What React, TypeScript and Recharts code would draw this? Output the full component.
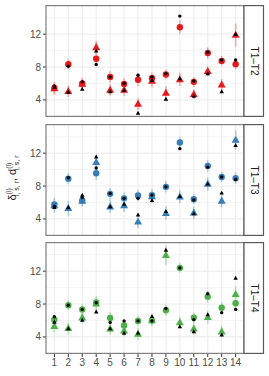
import React from "react";
import {
  ScatterChart,
  Scatter,
  XAxis,
  YAxis,
  CartesianGrid,
  ErrorBar,
} from "recharts";

const subjects = [1, 2, 3, 4, 5, 6, 7, 8, 9, 10, 11, 12, 13, 14];
const yTicks = [4, 8, 12];
const yMinor = [2, 6, 10, 14];

// T1–T2
const t2Dot = [5.7, 8.1, 6.2, 8.3, 6.8, 6.0, 7.0, 6.8, 7.2, 14.2, 6.3, 9.8, 8.85, 8.85];
const t2Tri = [5.55, 4.95, 5.3, 9.95, 5.0, 5.2, 2.4, 6.4, 4.1, 6.6, 4.45, 7.2, 5.0, 12.0];
const t2EstDot = [5.45, 8.35, 6.0, 9.0, 6.8, 5.95, 6.45, 6.65, 7.1, 12.85, 6.2, 9.7, 8.75, 8.35];
const t2EstDotErr = [0.7, 0.6, 0.7, 0.8, 0.7, 0.7, 0.8, 0.7, 0.6, 0.8, 0.6, 0.7, 0.6, 0.6];
const t2EstTri = [5.4, 5.05, 5.95, 10.4, 5.2, 5.2, 3.5, 6.3, 4.85, 6.5, 4.7, 7.5, 5.85, 11.9];
const t2EstTriErr = [0.8, 0.7, 0.7, 0.8, 0.7, 0.7, 0.7, 0.8, 0.8, 0.8, 0.6, 0.6, 0.7, 1.4];

// T1–T3
const t3Dot = [5.55, 9.0, 6.6, 10.2, 7.1, 6.5, 6.5, 6.9, 7.9, 12.55, 6.3, 10.3, 9.1, 8.8];
const t3Tri = [5.4, 5.4, 6.9, 11.55, 5.5, 5.8, 4.5, 6.25, 4.9, 6.75, 4.65, 8.25, 7.15, 12.95];
const t3EstDot = [5.75, 8.9, 6.25, 9.55, 7.05, 6.5, 6.85, 6.9, 7.9, 13.3, 6.4, 10.45, 9.1, 8.95];
const t3EstDotErr = [0.7, 0.7, 0.7, 0.8, 0.7, 0.7, 0.7, 0.7, 0.7, 0.7, 0.6, 0.7, 0.6, 0.7];
const t3EstTri = [5.65, 5.3, 6.2, 10.9, 5.5, 5.65, 3.65, 6.75, 4.7, 6.7, 4.75, 8.25, 6.2, 13.6];
const t3EstTriErr = [0.9, 0.9, 0.7, 0.9, 0.8, 0.8, 0.8, 0.8, 0.8, 0.8, 0.8, 0.8, 0.8, 1.2];

// T1–T4
const t4Dot = [6.45, 7.85, 7.35, 8.15, 5.75, 5.95, 5.95, 5.95, 7.45, 12.4, 6.1, 9.25, 6.95, 7.35];
const t4Tri = [5.8, 5.0, 6.05, 7.05, 5.0, 4.45, 4.5, 6.5, 14.55, 5.25, 4.65, 6.7, 4.25, 11.15];
const t4EstDot = [6.1, 7.85, 7.35, 8.2, 6.3, 5.4, 5.95, 6.0, 7.25, 12.4, 6.35, 8.9, 7.55, 8.1];
const t4EstDotErr = [0.6, 0.6, 0.6, 0.7, 0.7, 0.6, 0.6, 0.6, 0.7, 0.6, 0.6, 0.7, 0.7, 0.8];
const t4EstTri = [5.3, 5.05, 6.35, 8.05, 5.0, 4.75, 4.35, 6.0, 13.95, 5.75, 5.0, 6.4, 4.65, 9.2];
const t4EstTriErr = [0.8, 0.7, 0.7, 0.9, 0.7, 0.7, 0.7, 0.7, 1.2, 0.7, 0.7, 0.8, 0.7, 1.0];

const FONT = "'Liberation Sans', Arial, sans-serif";
const PLOT_LEFT = 46;
const PLOT_W = 198;
const PANEL_H = 112;
const CHART_W = 269;

const rows = (vals: number[], errs?: number[]) =>
  subjects.map((x, i) => ({ x, y: vals[i], err: errs ? errs[i] : 0 }));

const circle = (r: number, fill: string) => (p: any) =>
  <circle cx={p.cx} cy={p.cy} r={r} fill={fill} />;

const triangle = (s: number, fill: string) => (p: any) => {
  const h = s * 0.88;
  return (
    <path
      d={`M${p.cx},${p.cy - h * 0.6} L${p.cx + s / 2},${p.cy + h * 0.4} L${p.cx - s / 2},${p.cy + h * 0.4} Z`}
      fill={fill}
    />
  );
};

interface PanelProps {
  label: string;
  top: number;
  color: string;
  light: string;
  dot: number[];
  tri: number[];
  estDot: number[];
  estDotErr: number[];
  estTri: number[];
  estTriErr: number[];
  showX?: boolean;
}

function Panel({ label, top, color, light, dot, tri, estDot, estDotErr, estTri, estTriErr, showX }: PanelProps) {
  const xAxisH = showX ? 22 : 0;
  return (
    <div style={{ position: "absolute", left: 0, top }}>
      <ScatterChart
        width={CHART_W}
        height={PANEL_H + xAxisH}
        margin={{ top: 0, right: CHART_W - PLOT_LEFT - PLOT_W, bottom: 0, left: 0 }}
      >
        <CartesianGrid
          stroke="#F3F3F3"
          strokeWidth={0.8}
          vertical={false}
          horizontalValues={yMinor}
        />
        <CartesianGrid
          stroke="#EBEBEB"
          strokeWidth={1}
          horizontalValues={yTicks}
          verticalValues={subjects}
        />
        <XAxis
          type="number"
          dataKey="x"
          domain={[0.4, 14.6]}
          ticks={subjects}
          interval={0}
          allowDataOverflow
          hide={!showX}
          height={xAxisH}
          axisLine={false}
          tickSize={3}
          tickMargin={2}
          tickLine={{ stroke: "#333333" }}
          tick={{ fill: "#4D4D4D", fontSize: 10, fontFamily: FONT }}
        />
        <YAxis
          type="number"
          dataKey="y"
          domain={[1.92, 15.55]}
          ticks={yTicks}
          allowDataOverflow
          width={PLOT_LEFT}
          axisLine={false}
          tickSize={3}
          tickMargin={2}
          tickLine={{ stroke: "#333333" }}
          tick={{ fill: "#4D4D4D", fontSize: 10, fontFamily: FONT }}
        />
        <Scatter data={rows(estTri, estTriErr)} shape={triangle(8, color)} isAnimationActive={false}>
          <ErrorBar dataKey="err" direction="y" width={0} stroke={light} strokeWidth={1.5} isAnimationActive={false} />
        </Scatter>
        <Scatter data={rows(estDot, estDotErr)} shape={circle(3.2, color)} isAnimationActive={false}>
          <ErrorBar dataKey="err" direction="y" width={0} stroke={light} strokeWidth={1.5} isAnimationActive={false} />
        </Scatter>
        <Scatter data={rows(tri)} shape={triangle(4.5, "#000000")} isAnimationActive={false} />
        <Scatter data={rows(dot)} shape={circle(1.7, "#000000")} isAnimationActive={false} />
      </ScatterChart>
      <svg
        width={CHART_W}
        height={PANEL_H}
        style={{ position: "absolute", left: 0, top: 0, pointerEvents: "none" }}
      >
        <rect x={PLOT_LEFT} y={0.6} width={PLOT_W} height={PANEL_H - 1.2} fill="none" stroke="#7F7F7F" strokeWidth={1.2} />
        <rect x={PLOT_LEFT + PLOT_W} y={0.6} width={19.5} height={PANEL_H - 1.2} fill="#FFFFFF" stroke="#5A5A5A" strokeWidth={1.2} />
        <text
          transform={`translate(${PLOT_LEFT + PLOT_W + 6.5},${PANEL_H / 2}) rotate(90)`}
          textAnchor="middle"
          fontFamily={FONT}
          fontSize={10}
          fill="#1A1A1A"
        >
          {label}
        </text>
      </svg>
    </div>
  );
}

export default function App() {
  return (
    <div style={{ position: "absolute", left: 0, top: 0, width: 269, height: 376, background: "#FFFFFF" }}>
      <Panel label="T1–T2" top={5} color="#E41A1C" light="#F5A3A4"
        dot={t2Dot} tri={t2Tri} estDot={t2EstDot} estDotErr={t2EstDotErr} estTri={t2EstTri} estTriErr={t2EstTriErr} />
      <Panel label="T1–T3" top={124} color="#377EB8" light="#A9C8E4"
        dot={t3Dot} tri={t3Tri} estDot={t3EstDot} estDotErr={t3EstDotErr} estTri={t3EstTri} estTriErr={t3EstTriErr} />
      <Panel label="T1–T4" top={242} color="#4DAF4A" light="#B3DDB1"
        dot={t4Dot} tri={t4Tri} estDot={t4EstDot} estDotErr={t4EstDotErr} estTri={t4EstTri} estTriErr={t4EstTriErr} showX />
      <svg width={30} height={376} style={{ position: "absolute", left: 0, top: 0 }}>
        <text
          transform="translate(16,178) rotate(-90)"
          textAnchor="middle"
          fontFamily={FONT}
          fontSize={11}
          fill="#1A1A1A"
        >
          <tspan>δ</tspan>
          <tspan fontSize={7} dy={-5}>(i)</tspan>
          <tspan fontSize={7} dx={-8} dy={8}>i, s, r</tspan>
          <tspan dy={-3}>,  d</tspan>
          <tspan fontSize={7} dy={-5}>(i)</tspan>
          <tspan fontSize={7} dx={-8} dy={8}>i, s, r</tspan>
        </text>
      </svg>
    </div>
  );
}
